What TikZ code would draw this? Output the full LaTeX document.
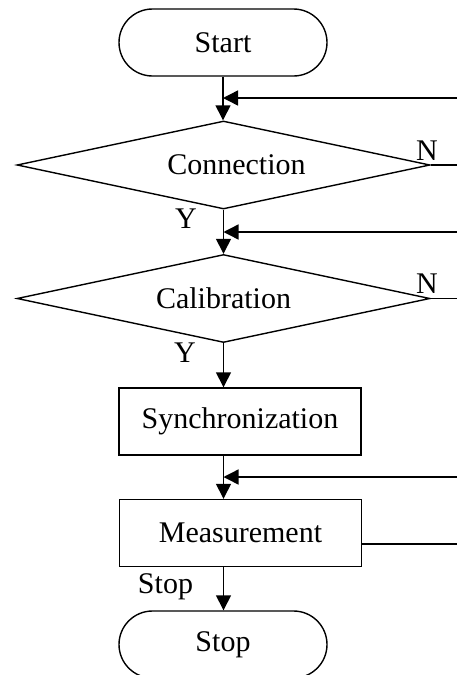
\documentclass[tikz,border=0pt]{standalone}
\usepackage{fontspec}
\setmainfont{Liberation Serif}
\usetikzlibrary{shapes.geometric,arrows.meta,calc}
\begin{document}
\begin{tikzpicture}[x=1pt,y=-1pt,line width=1.4pt,
  every node/.style={font=\fontsize{30}{36}\selectfont},
  term/.style={draw,rectangle,rounded corners=33.5pt,minimum width=208pt,minimum height=67pt,inner sep=0pt},
  dec/.style={draw,diamond,aspect=4.7,minimum width=413pt,minimum height=88pt,inner sep=0pt},
  proc/.style={draw,rectangle,minimum width=242pt,minimum height=67pt,inner sep=0pt},
  arr/.style={-{Triangle[length=15pt,width=15pt]}},
  lab/.style={inner sep=0pt,anchor=base}]
\clip (0,0) rectangle (457,675);
\node[term] (start) at (223,42.5) {Start};
\node[dec] (c1) at (223.5,165) {\hspace*{26pt}Connection};
\node[dec] (c2) at (223.5,298.5) {Calibration};
\node[proc] (sync) at (240,421.5) {Synchronization};
\node[proc] (meas) at (240.5,533) {Measurement};
\node[term] (stop) at (223,644.5) {Stop};
\coordinate (edge) at (457,0);
\coordinate (fb1) at (457,98);
\coordinate (fb2) at (457,232);
\coordinate (fb3) at (457,477);
% main flow
\draw[arr] (start.south) -- (start.south |- c1.north);
\draw[arr] (c1.south) -- (c1.south |- c2.north);
\draw[arr] (c2.south) -- (c2.south |- sync.north);
\draw[arr] (c2.south |- sync.south) -- (c2.south |- meas.north);
\draw[arr] (c2.south |- meas.south) -- (c2.south |- stop.north);
% feedback lines
\draw[arr] (fb1) -- (fb1 -| start.south);
\draw[arr] (fb2) -- (fb2 -| c1.south);
\draw[arr] (fb3) -- (fb3 -| c2.south);
\draw (c1.east) -- (c1.east -| edge);
\draw (c2.east) -- (c2.east -| edge);
\coordinate (mo) at ($(meas.east)+(0,11)$);
\draw (mo) -- (mo -| edge);
% labels
\node[lab] (n1) at (427,160) {N};
\node[lab] (n2) at (427,293) {N};
\node[lab] (y1) at (186,228) {Y};
\node[lab] (y2) at (185,362) {Y};
\node[lab] (sl) at (165.5,593) {Stop};
\end{tikzpicture}
\end{document}
